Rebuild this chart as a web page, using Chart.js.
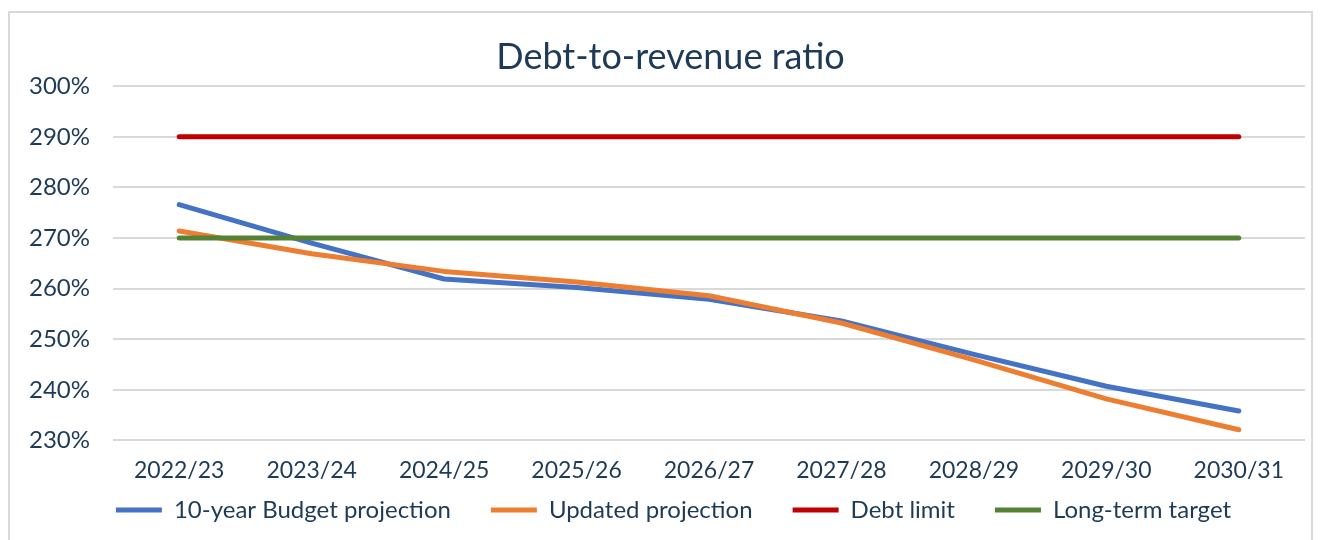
<!DOCTYPE html>
<html>
<head>
<meta charset="utf-8">
<script src="https://cdn.jsdelivr.net/npm/chart.js@4"></script>
<style>
html,body{margin:0;padding:0;background:#fff;}
#wrap{position:relative;width:1320px;height:540px;overflow:hidden;}
#frame{position:absolute;left:8px;top:11px;width:1305px;height:600px;border:2px solid #d9d9d9;box-sizing:border-box;}
canvas{position:absolute;left:0;top:0;}
</style>
</head>
<body>
<div id="wrap"><div id="frame"></div><canvas id="c" width="1320" height="540"></canvas></div>
<script>
const categories = ['2022/23','2023/24','2024/25','2025/26','2026/27','2027/28','2028/29','2029/30','2030/31'];
const budgetProjection = [276.6, 269.0, 261.9, 260.2, 257.9, 253.6, 247.0, 240.7, 235.8];
const updatedProjection = [271.4, 266.9, 263.4, 261.3, 258.6, 253.2, 245.9, 238.2, 232.1];
const debtLimit = [290, 290, 290, 290, 290, 290, 290, 290, 290];
const longTermTarget = [270, 270, 270, 270, 270, 270, 270, 270, 270];
const yTicks = [230, 240, 250, 260, 270, 280, 290, 300];

const textColor = '#1d3a57';
const fontFamily = 'Lato, "Noto Sans", sans-serif';

function ds(label, data, color, order) {
  return {label, data, borderColor: color, backgroundColor: color, borderWidth: 5,
    pointRadius: 0, pointHoverRadius: 0, tension: 0, borderCapStyle: 'round',
    borderJoinStyle: 'round', fill: false, order};
}

// layout tweaks: legend box height and offsets for title / legend placement
function shiftBox(box, dx, dy, extraH) {
  const draw = box.draw;
  box.draw = function() {
    const s = {left: this.left, right: this.right, top: this.top, bottom: this.bottom, height: this.height};
    this.left += dx; this.right += dx; this.top += dy; this.height += extraH; this.bottom = this.top + this.height;
    draw.apply(this, arguments);
    Object.assign(this, s);
  };
}
const boxTweakPlugin = {
  id: 'boxTweak',
  afterInit(chart) {
    const lg = chart.legend;
    if (lg) {
      const fit = lg.fit;
      lg.fit = function() { fit.call(this); this.height = 34; };
      shiftBox(lg, 21, -42, 80);
    }
    if (chart.titleBlock) shiftBox(chart.titleBlock, 18, 0, 0);
  }
};

new Chart(document.getElementById('c'), {
  type: 'line',
  data: {
    labels: categories,
    datasets: [
      ds('10-year Budget projection', budgetProjection, '#4472c4', 3),
      ds('Updated projection', updatedProjection, '#ed7d31', 2),
      ds('Debt limit', debtLimit, '#c00000', 1),
      ds('Long-term target', longTermTarget, '#548235', 0)
    ]
  },
  plugins: [boxTweakPlugin],
  options: {
    responsive: false,
    animation: false,
    devicePixelRatio: 1,
    layout: {padding: {left: 0, right: 15, top: 0, bottom: 6}},
    plugins: {
      title: {display: true, text: 'Debt-to-revenue ratio', color: textColor,
        font: {family: fontFamily, size: 36, weight: 'normal'}, padding: {top: 36, bottom: 7}},
      legend: {position: 'bottom',
        labels: {usePointStyle: true, pointStyle: 'line', pointStyleWidth: 46,
          color: textColor, font: {family: fontFamily, size: 24}, padding: 40,
          sort: (a, b) => a.datasetIndex - b.datasetIndex}},
      tooltip: {enabled: false}
    },
    scales: {
      x: {
        offset: true,
        grid: {display: false, drawTicks: false},
        border: {display: false},
        ticks: {color: textColor, font: {family: fontFamily, size: 23}, padding: 16, maxRotation: 0, autoSkip: false}
      },
      y: {
        min: yTicks[0], max: yTicks[yTicks.length - 1],
        afterFit: (s) => { s.width = 113; },
        afterBuildTicks: (s) => { s.ticks = yTicks.map(v => ({value: v})); },
        grid: {color: '#d9d9d9', lineWidth: 2, drawTicks: false},
        border: {display: false},
        ticks: {color: textColor, font: {family: fontFamily, size: 24}, padding: 23,
          callback: (v) => v + '%'}
      }
    }
  }
});
</script>
</body>
</html>
